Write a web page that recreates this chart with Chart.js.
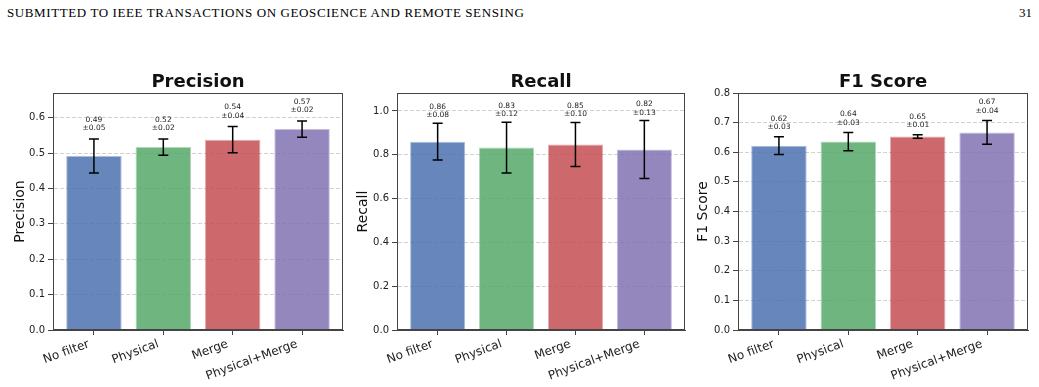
<!DOCTYPE html>
<html>
<head>
<meta charset="utf-8">
<script src="https://cdn.jsdelivr.net/npm/chart.js@4.4.0/dist/chart.umd.min.js"></script>
<style>
    html, body { margin: 0; padding: 0; background: #fff; }
    body { width: 1039px; height: 387px; position: relative; overflow: hidden; }
    .hdr { position: absolute; top: 6px; font-family: "Liberation Serif", serif; font-size: 13px; line-height: 1; color: #000; white-space: nowrap; }
    .panel { position: absolute; top: 0; height: 387px; }
    canvas { display: block; }
</style>
</head>
<body>
<div class="hdr" style="left:7px;letter-spacing:0.6px">SUBMITTED TO IEEE TRANSACTIONS ON GEOSCIENCE AND REMOTE SENSING</div>
<div class="hdr" style="left:1019px">31</div>
<div class="panel" style="left:0px"><canvas id="precisionChart" width="350" height="387"></canvas></div>
<div class="panel" style="left:350px"><canvas id="recallChart" width="340" height="387"></canvas></div>
<div class="panel" style="left:690px"><canvas id="f1Chart" width="349" height="387"></canvas></div>
<script>
// methods compared
const methods = ['No filter', 'Physical', 'Merge', 'Physical+Merge'];

// mean and std per metric
const precisionMean = [0.492, 0.517, 0.538, 0.568];
const precisionStd = [0.048, 0.023, 0.037, 0.023];
const recallMean = [0.860, 0.833, 0.847, 0.824];
const recallStd = [0.084, 0.116, 0.100, 0.132];
const f1Mean = [0.622, 0.636, 0.653, 0.667];
const f1Std = [0.030, 0.031, 0.006, 0.040];

// y axis limits / tick steps
const precisionAxis = { max: 0.670, step: 0.1 };
const recallAxis = { max: 1.082, step: 0.2 };
const f1Axis = { max: 0.800, step: 0.1 };

const barColors = [[76, 114, 176], [85, 168, 104], [196, 78, 82], [129, 114, 178]];
const LABEL_GAP = 0.02; // data units above error bar top

Chart.defaults.font.family = '"DejaVu Sans", sans-serif';
Chart.defaults.animation = false;

const errorBars = {
    id: 'errorBars',
    afterDatasetsDraw(chart) {
        const ds = chart.data.datasets[0];
        const xs = chart.scales.x, ys = chart.scales.y;
        const ctx = chart.ctx;
        ctx.save();
        ds.data.forEach((pt, i) => {
            const err = ds.errors[i];
            const x = xs.getPixelForValue(pt.x);
            const top = ys.getPixelForValue(pt.y + err);
            const bot = ys.getPixelForValue(pt.y - err);
            ctx.strokeStyle = '#000';
            ctx.lineWidth = 1.5;
            ctx.beginPath();
            ctx.moveTo(x, top); ctx.lineTo(x, bot);
            ctx.moveTo(x - 5, top); ctx.lineTo(x + 5, top);
            ctx.moveTo(x - 5, bot); ctx.lineTo(x + 5, bot);
            ctx.stroke();

            const ly = ys.getPixelForValue(pt.y + err + LABEL_GAP);
            ctx.fillStyle = '#222';
            ctx.font = '7.5px "DejaVu Sans"';
            ctx.textAlign = 'center';
            ctx.textBaseline = 'alphabetic';
            ctx.fillText('\u00b1' + err.toFixed(2), x, ly - 1.7);
            ctx.fillText(pt.y.toFixed(2), x, ly - 1.7 - 8.5);
        });
        ctx.restore();
    }
};

const frame = {
    id: 'frame',
    afterDraw(chart) {
        const a = chart.chartArea;
        const ctx = chart.ctx;
        ctx.save();
        ctx.strokeStyle = '#444';
        ctx.lineWidth = 1;
        ctx.strokeRect(Math.round(a.left) + 0.5, Math.round(a.top) + 0.5,
            Math.round(a.right - a.left) - 1, Math.round(a.bottom - a.top) - 1);
        ctx.restore();
    }
};

function makeChart(id, title, means, stds, axis, yWidth, padRight, titlePad) {
    const ctx = document.getElementById(id).getContext('2d');
    return new Chart(ctx, {
        type: 'bar',
        data: {
            datasets: [{
                data: means.map((y, i) => ({ x: i, y: y })),
                errors: stds,
                backgroundColor: barColors.map(c => `rgba(${c.join(',')},0.85)`),
                borderColor: barColors.map(c => `rgba(${c.join(',')},0.45)`),
                borderWidth: 1,
                barPercentage: 0.8,
                categoryPercentage: 1.0
            }]
        },
        options: {
            responsive: false,
            layout: { padding: { top: 71.4, right: padRight, bottom: 0, left: 0 } },
            plugins: {
                legend: { display: false },
                tooltip: { enabled: false },
                title: {
                    display: true, text: title, fullSize: false,
                    color: '#111', font: { size: 18, weight: 'bold' },
                    padding: { top: 0, bottom: 0 }
                }
            },
            scales: {
                x: {
                    type: 'linear', min: -0.59, max: 3.59, offset: false,
                    afterBuildTicks: s => { s.ticks = methods.map((_, i) => ({ value: i })); },
                    afterFit: s => { s.height = 57; },
                    ticks: {
                        callback: v => methods[v],
                        minRotation: 20, maxRotation: 20, autoSkip: false,
                        font: { size: 12 }, color: '#222', padding: 2, labelOffset: -5
                    },
                    grid: { drawOnChartArea: false, tickLength: 5, tickColor: '#444', offset: false },
                    border: { color: '#444' }
                },
                y: {
                    min: 0, max: axis.max,
                    afterFit: s => { s.width = yWidth; },
                    ticks: {
                        stepSize: axis.step, includeBounds: false,
                        callback: v => v.toFixed(1),
                        font: { size: 10 }, color: '#222', padding: 3
                    },
                    grid: { color: '#d2d2d2', lineWidth: 1, tickColor: '#444', tickLength: 5, tickBorderDash: [] },
                    border: { color: '#444', dash: [4, 2] },
                    title: {
                        display: true, text: title, color: '#111',
                        font: { size: 14 }, padding: { top: titlePad, bottom: 0 }
                    }
                }
            }
        },
        plugins: [errorBars, frame]
    });
}

makeChart('precisionChart', 'Precision', precisionMean, precisionStd, precisionAxis, 53, 7, 12);
makeChart('recallChart', 'Recall', recallMean, recallStd, recallAxis, 47, 5, 4.6);
makeChart('f1Chart', 'F1 Score', f1Mean, f1Std, f1Axis, 48, 11, 5.4);
</script>
</body>
</html>
